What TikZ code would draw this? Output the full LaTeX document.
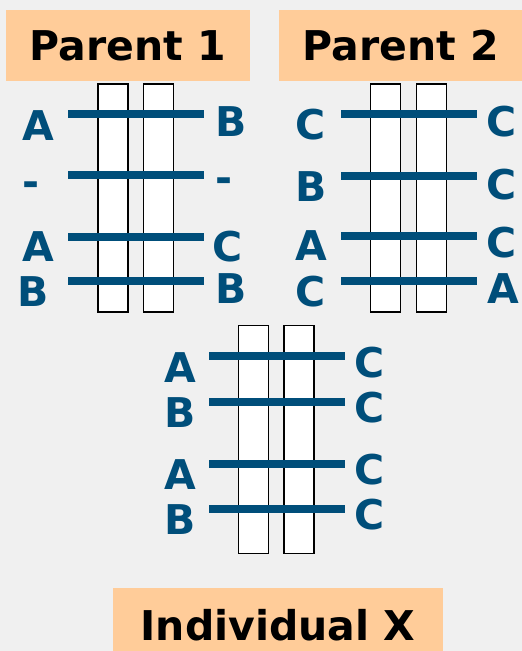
\documentclass[tikz,border=0pt]{standalone}
\usepackage{fontspec}
\setmainfont{DejaVu Sans}
\usetikzlibrary{positioning}
\definecolor{peach}{RGB}{255,204,153}
\definecolor{geneblue}{RGB}{0,78,122}
\definecolor{bggray}{RGB}{240,240,240}

\begin{document}
\begin{tikzpicture}[x=1pt, y=-1pt,
        title/.style={rectangle, fill=peach, inner sep=0pt, font=\fontsize{41}{41}\selectfont\bfseries},
        chromatid/.style={rectangle, draw=black, fill=white, line width=1.5pt, minimum width=30pt, minimum height=228pt, inner sep=0pt},
        band/.style={rectangle, fill=geneblue, minimum width=136pt, minimum height=8pt, inner sep=0pt},
        allele/.style={text=geneblue, inner sep=0pt, font=\fontsize{41}{41}\selectfont\bfseries}
    ]
    \useasboundingbox (0,0) rectangle (522,651);
    \clip (0,0) rectangle (522,651);
    \fill[bggray] (0,0) rectangle (522,651);

    % Titles
    \node[title, minimum width=244pt, minimum height=71pt] (par1) at (128,45.5) {Parent 1};
    \node[title, minimum width=243pt, minimum height=71pt] (par2) at (400.5,45.5) {Parent 2};
    \node[title, minimum width=330pt, minimum height=75pt] (indx) at (278,625.5) {Individual X};

    % Parent 1
    \node[chromatid] (par1a) at (113,198) {};
    \node[chromatid] (par1b) at (158.5,198) {};
    \foreach \y [count=\i] in {114,175,237,281}
        \node[band] (par1band\i) at (136,\y) {};
    \foreach \x/\y/\t [count=\i] in {38/126/A, 31.5/189/-, 38/247/A, 33/292/B}
        \node[allele] (par1l\i) at (\x,\y) {\t};
    \foreach \x/\y/\t [count=\i] in {231/122/B, 224/185.5/-, 227.5/247/C, 231/289/B}
        \node[allele] (par1r\i) at (\x,\y) {\t};

    % Parent 2
    \node[chromatid] (par2a) at (385.5,198) {};
    \node[chromatid] (par2b) at (431.5,198) {};
    \foreach \y [count=\i] in {114,176,236,281}
        \node[band] (par2band\i) at (409,\y) {};
    \foreach \x/\y/\t [count=\i] in {311/125/C, 311/187/B, 311/246/A, 311/292/C}
        \node[allele] (par2l\i) at (\x,\y) {\t};
    \foreach \x/\y/\t [count=\i] in {502/122/C, 502/185/C, 502/243/C, 503/289/A}
        \node[allele] (par2r\i) at (\x,\y) {\t};

    % Individual X
    \node[chromatid] (indxa) at (253.5,439.5) {};
    \node[chromatid] (indxb) at (299,439.5) {};
    \foreach \y [count=\i] in {356,402,464,509}
        \node[band] (indxband\i) at (277,\y) {};
    \foreach \x/\y/\t [count=\i] in {180/368/A, 180/413/B, 180/475/A, 180/520/B}
        \node[allele] (indxl\i) at (\x,\y) {\t};
    \foreach \x/\y/\t [count=\i] in {370/363/C, 370/408/C, 370/470/C, 370/515/C}
        \node[allele] (indxr\i) at (\x,\y) {\t};

\end{tikzpicture}
\end{document}
